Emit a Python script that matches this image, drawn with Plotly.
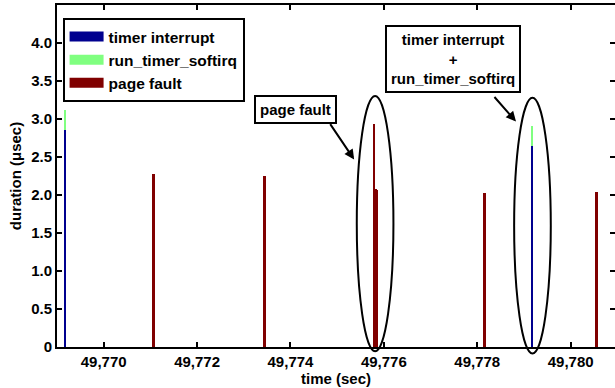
import plotly.graph_objects as go

# ---- data ----
timer_times = [49769.18, 49779.18]
timer_durations = [2.86, 2.64]
softirq_durations = [0.26, 0.27]
pf_times = [49771.07, 49773.45, 49775.79, 49775.835, 49775.865, 49778.16, 49780.56]
pf_durations = [2.27, 2.25, 2.93, 2.08, 2.06, 2.03, 2.04]

x_ticks = [49770, 49772, 49774, 49776, 49778, 49780]
y_ticks = [0, 0.5, 1.0, 1.5, 2.0, 2.5, 3.0, 3.5, 4.0]
y_ticklabels = ["0", "0.5", "1.0", "1.5", "2.0", "2.5", "3.0", "3.5", "4.0"]
series_names = ["timer interrupt", "run_timer_softirq", "page fault"]

BLUE = "#00008F"
GREEN = "#80FF80"
RED = "#800000"
FONT = "Liberation Sans, Arial, sans-serif"
BAR_W = 0.04

fig = go.Figure()
fig.add_trace(go.Bar(x=timer_times, y=timer_durations, width=BAR_W,
                     marker=dict(color=BLUE, line=dict(width=0)),
                     name=series_names[0], legendgroup="a", showlegend=False))
fig.add_trace(go.Bar(x=timer_times, y=softirq_durations, base=timer_durations,
                     width=BAR_W, marker=dict(color=GREEN, line=dict(width=0)),
                     name=series_names[1], legendgroup="b", showlegend=False))
fig.add_trace(go.Bar(x=pf_times, y=pf_durations, width=BAR_W,
                     marker=dict(color=RED, line=dict(width=0)),
                     name=series_names[2], legendgroup="c", showlegend=False))
# legend entries drawn as wide colour patches
for nm, col, grp in zip(series_names, [BLUE, GREEN, RED], ["a", "b", "c"]):
    fig.add_trace(go.Scatter(x=[None], y=[None], mode="lines", name=nm,
                             legendgroup=grp, line=dict(color=col, width=18),
                             hoverinfo="skip"))
# invisible trace to carry the right-hand tick axis
fig.add_trace(go.Scatter(x=[None], y=[None], yaxis="y2", showlegend=False,
                         hoverinfo="skip"))

fig.update_layout(
    width=615, height=388,
    margin=dict(l=57, r=0, t=5, b=41),
    paper_bgcolor="white", plot_bgcolor="white",
    barmode="overlay", bargap=0,
    font=dict(family=FONT, size=15, color="black", weight="bold"),
    showlegend=True,
    legend=dict(x=0.01, y=0.962, xanchor="left", yanchor="top",
                bgcolor="white", bordercolor="black", borderwidth=2,
                font=dict(family=FONT, size=15.5, color="black", weight="bold"),
                itemwidth=34, tracegroupgap=0),
    xaxis=dict(range=[49769, 49780.95], tickvals=x_ticks, tickformat=",d",
               ticks="inside", ticklen=5, tickwidth=2, tickcolor="black",
               showline=True, linewidth=2, linecolor="black", mirror="ticks",
               showgrid=False, zeroline=False, automargin=False,
               title=dict(text="time (sec)", standoff=4,
                          font=dict(family=FONT, size=15, weight="bold"))),
    yaxis=dict(range=[0, 4.5], tickvals=y_ticks, ticktext=y_ticklabels,
               ticks="inside", ticklen=5, tickwidth=2, tickcolor="black",
               showline=True, linewidth=2, linecolor="black",
               showgrid=False, zeroline=False, automargin=False,
               title=dict(text="duration (\u03bcsec)", standoff=6,
                          font=dict(family=FONT, size=15, weight="bold"))),
    yaxis2=dict(range=[0, 4.5], tickvals=y_ticks, overlaying="y", side="right",
                ticks="inside", ticklen=5, tickwidth=2, tickcolor="black",
                showticklabels=False, showline=False, showgrid=False,
                zeroline=False, automargin=False),
)

# ellipses highlighting events
fig.add_shape(type="circle", xref="x", yref="paper",
              x0=49775.42, x1=49776.205, y0=-0.0123, y1=0.734,
              line=dict(color="black", width=2))
fig.add_shape(type="circle", xref="x", yref="paper",
              x0=49778.79, x1=49779.575, y0=-0.019, y1=0.7285,
              line=dict(color="black", width=2))

# text boxes
fig.add_annotation(x=49774.10, y=3.13, xref="x", yref="y", text="page fault",
                   showarrow=False, bordercolor="black", borderwidth=2,
                   borderpad=4, bgcolor="white",
                   font=dict(family=FONT, size=15, color="black", weight="bold"))
fig.add_annotation(x=49777.47, y=3.796, xref="x", yref="y",
                   text="timer interrupt<br>+<br>run_timer_softirq",
                   showarrow=False, bordercolor="black", borderwidth=2,
                   borderpad=4, bgcolor="white", align="center",
                   font=dict(family=FONT, size=15, color="black", weight="bold"))
# arrows
fig.add_annotation(x=49775.364, y=2.467, ax=49774.83, ay=2.953,
                   xref="x", yref="y", axref="x", ayref="y", text="",
                   showarrow=True, arrowhead=2, arrowsize=1, arrowwidth=2,
                   arrowcolor="black", standoff=0)
fig.add_annotation(x=49778.83, y=2.967, ax=49778.34, ay=3.309,
                   xref="x", yref="y", axref="x", ayref="y", text="",
                   showarrow=True, arrowhead=2, arrowsize=1, arrowwidth=2,
                   arrowcolor="black", standoff=0)

fig.write_html("out.html",
               config={"displayModeBar": False},
               post_script="document.body.style.margin='0';"
                           "document.body.style.overflow='hidden';")
